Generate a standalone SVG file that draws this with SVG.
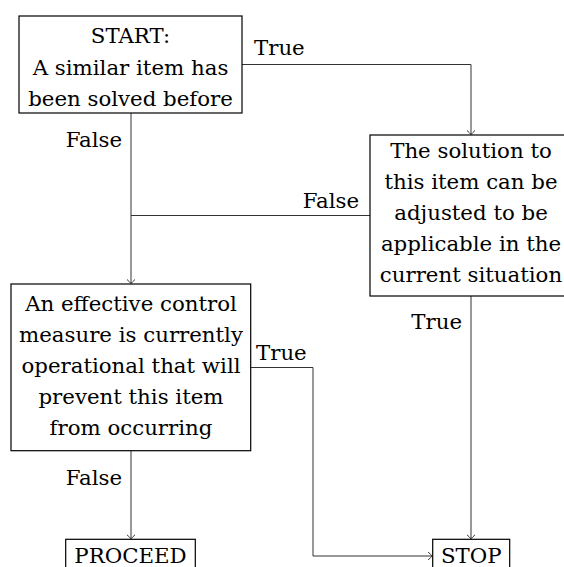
<svg xmlns="http://www.w3.org/2000/svg" width="564" height="567" viewBox="0 0 564 567">
<style>
text{font-family:"DejaVu Serif","Liberation Serif",serif;font-size:21.3px;fill:#000}
.c{text-anchor:middle}
.r{text-anchor:end}
.box{fill:#fff;stroke:#000;stroke-width:1.2}
.ln{fill:none;stroke:#333;stroke-width:1}
</style>
<defs>
<marker id="arr" markerUnits="userSpaceOnUse" markerWidth="12" markerHeight="12" refX="0" refY="0" viewBox="-6 -6 12 12" orient="auto" overflow="visible">
<path d="M-4,-4 Q-1.2,-1 0,0 Q-1.2,1 -4,4" fill="none" stroke="#333" stroke-width="1"/>
</marker>
</defs>
<g id="connectors">
<path class="ln" d="M242,64.5 H471 V134.5" marker-end="url(#arr)"/>
<path class="ln" d="M131,113 V283.5" marker-end="url(#arr)"/>
<path class="ln" d="M370,215.5 H131"/>
<path class="ln" d="M471,296 V538.8" marker-end="url(#arr)"/>
<path class="ln" d="M250.7,367.5 H313 V556 H432.2" marker-end="url(#arr)"/>
<path class="ln" d="M131,451 V538.8" marker-end="url(#arr)"/>
<text x="254" y="55">True</text>
<text class="r" x="122" y="146.5">False</text>
<text class="r" x="359" y="208">False</text>
<text class="r" x="462" y="329">True</text>
<text x="256" y="359.5">True</text>
<text class="r" x="122" y="485">False</text>
</g>
<g id="start">
<rect class="box" x="19" y="16" width="223" height="97"/>
<text class="c" x="130.5" y="42.5">START:</text>
<text class="c" x="130.5" y="74.5">A similar item has</text>
<text class="c" x="130.5" y="106">been solved before</text>
</g>
<g id="adjust">
<rect class="box" x="370" y="135" width="202" height="161"/>
<text class="c" x="471" y="157.8">The solution to</text>
<text class="c" x="471" y="188.8">this item can be</text>
<text class="c" x="471" y="219.8">adjusted to be</text>
<text class="c" x="471" y="250.8">applicable in the</text>
<text class="c" x="471" y="281.8">current situation</text>
</g>
<g id="control">
<rect class="box" x="11" y="284" width="239.7" height="166.7"/>
<text class="c" x="131" y="311">An effective control</text>
<text class="c" x="131" y="342">measure is currently</text>
<text class="c" x="131" y="373">operational that will</text>
<text class="c" x="131" y="404">prevent this item</text>
<text class="c" x="131" y="435">from occurring</text>
</g>
<g id="proceed">
<rect class="box" x="65.7" y="539.3" width="129.6" height="36"/>
<text class="c" x="130.5" y="562.5">PROCEED</text>
</g>
<g id="stop">
<rect class="box" x="432.7" y="539.3" width="77" height="36"/>
<text class="c" x="471.2" y="562.5">STOP</text>
</g>
</svg>
